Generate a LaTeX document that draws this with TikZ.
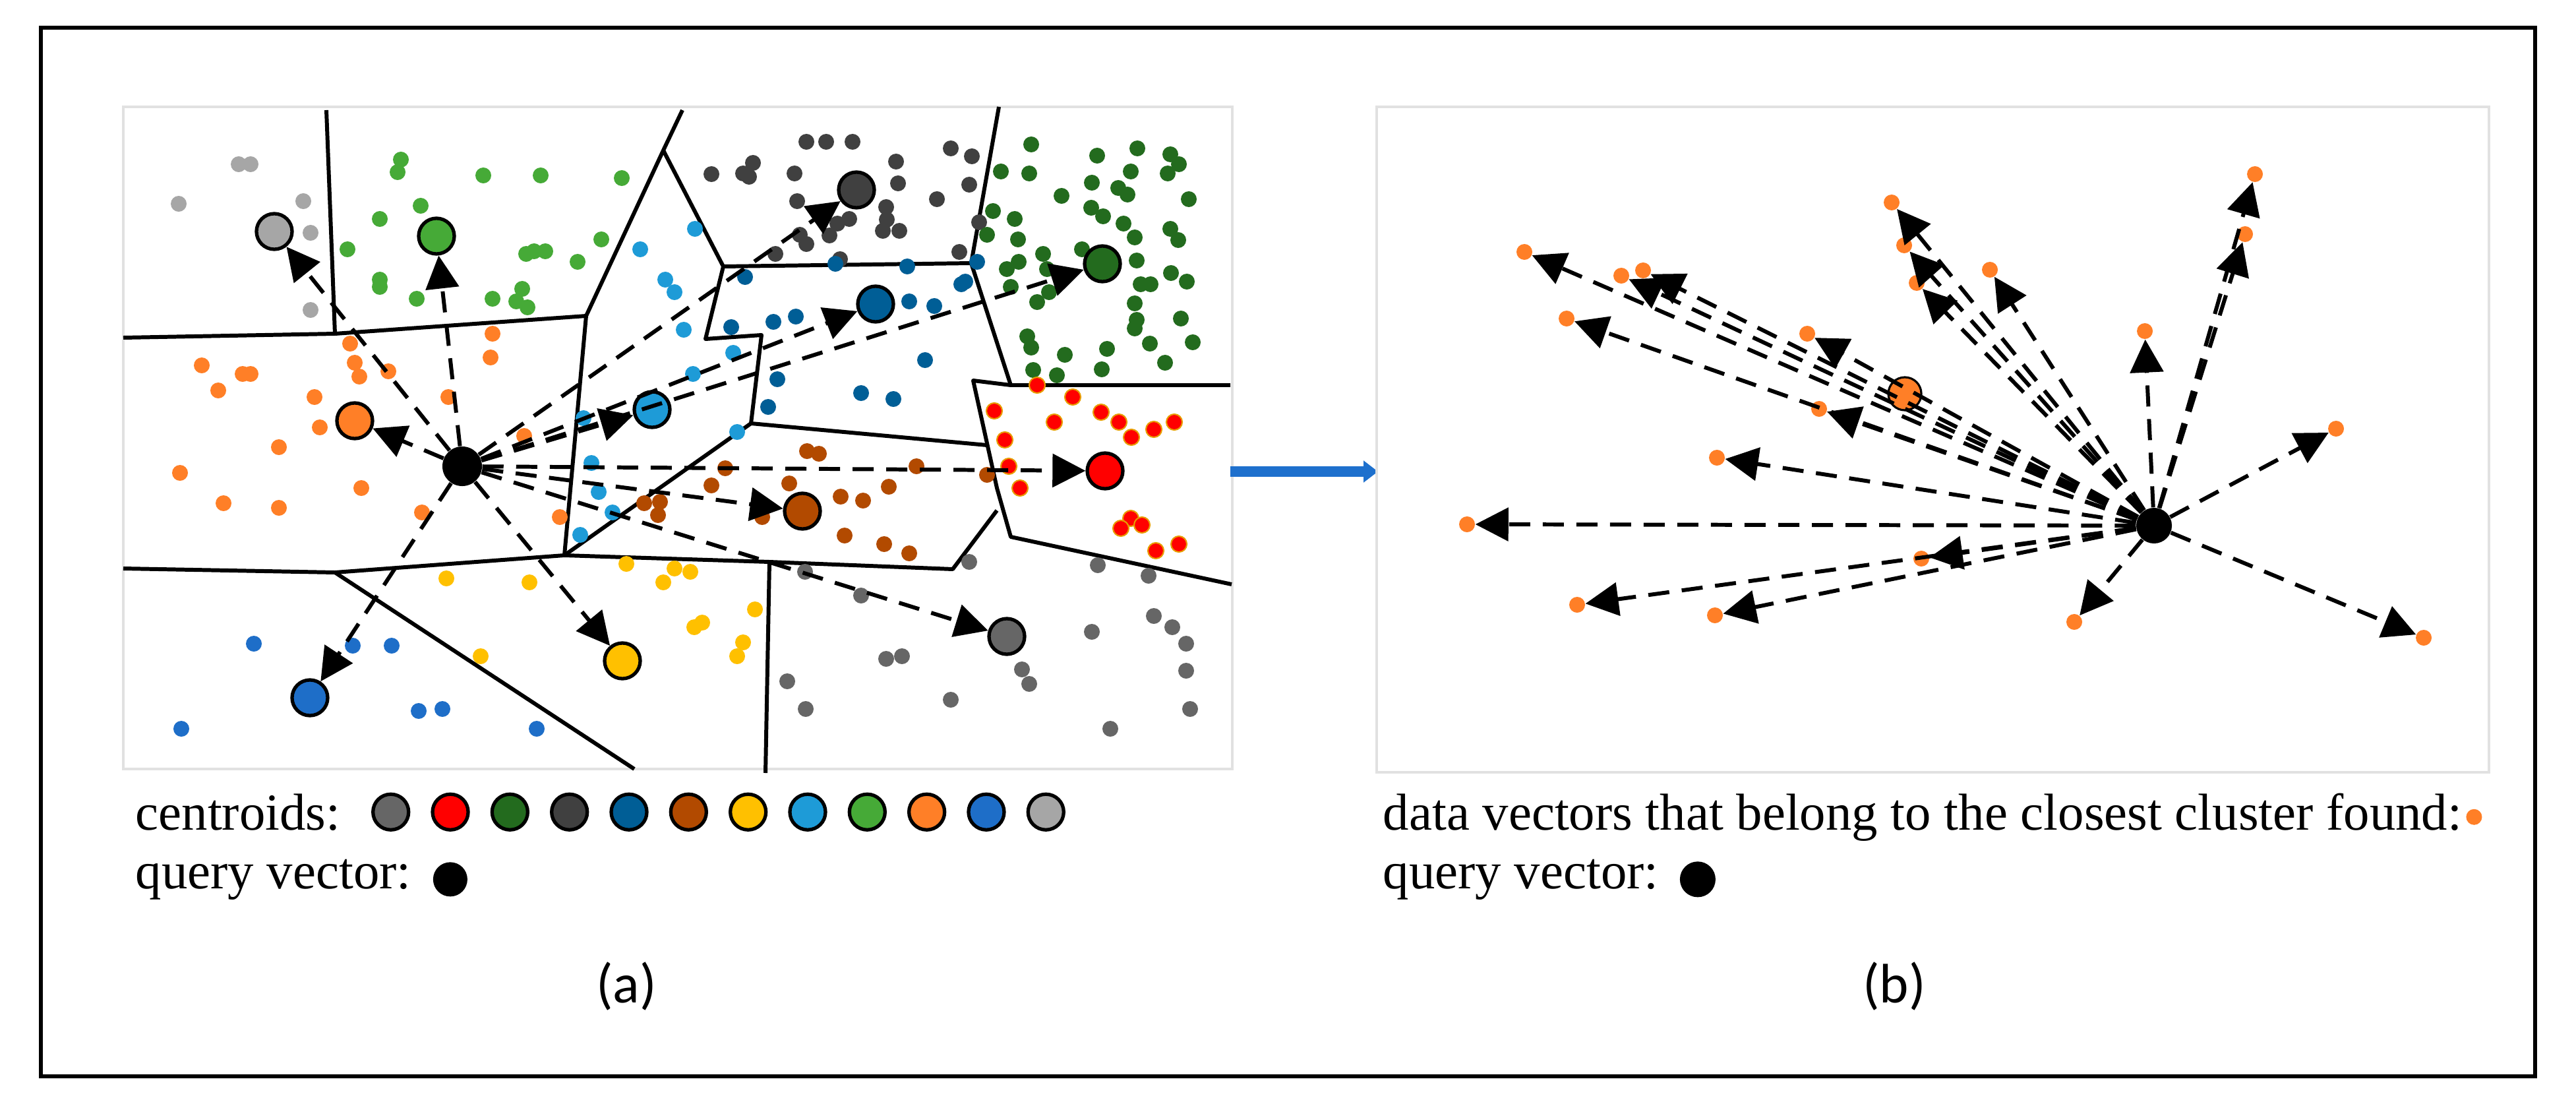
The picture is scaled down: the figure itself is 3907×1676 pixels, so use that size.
\documentclass[tikz,border=0pt]{standalone}
\usepackage{fontspec}
\setmainfont{Liberation Serif}
\newfontfamily\capfont{Carlito}
\usepackage{tikz}
\usetikzlibrary{positioning,arrows.meta}

\definecolor{cgray}{RGB}{102,102,102}
\definecolor{cred}{RGB}{255,0,0}
\definecolor{cdgreen}{RGB}{35,107,30}
\definecolor{cdgray}{RGB}{64,64,64}
\definecolor{cdblue}{RGB}{0,94,150}
\definecolor{cbrown}{RGB}{178,74,0}
\definecolor{cyellow}{RGB}{255,192,0}
\definecolor{clblue}{RGB}{30,155,215}
\definecolor{cgreen}{RGB}{70,170,55}
\definecolor{corange}{RGB}{255,127,39}
\definecolor{cblue}{RGB}{30,110,200}
\definecolor{clgray}{RGB}{166,166,166}
\definecolor{flowblue}{RGB}{30,112,205}
\definecolor{boxgray}{RGB}{225,225,225}

\tikzset{
  pt/.style={circle,inner sep=0pt,minimum size=0.24cm},
  cent/.style={circle,draw=black,line width=1.5pt,inner sep=0pt,minimum size=0.54cm},
  qry/.style={circle,fill=black,inner sep=0pt,minimum size=0.6cm},
  vec/.style={line width=1.7pt,dash pattern=on 0.32cm off 0.19cm,-{Triangle[length=0.5cm,width=0.5cm]}},
  cell/.style={line width=1.7pt,line join=round},
  panel/.style={draw=boxgray,line width=1.2pt},
  lbl/.style={inner sep=0pt,font=\fontsize{22.4}{26}\selectfont},
  link/.style={draw=flowblue,line width=0.16cm,-{Triangle[length=0.22cm,width=0.32cm]}}
}

\begin{document}
\begin{tikzpicture}[x=0.01cm,y=-0.01cm]
  \useasboundingbox (0,0) rectangle (3907,1676);
  \draw[line width=0.065cm] (62,42) rectangle (3845,1632);

  % (a) clusters
  \draw[panel] (187,162) rectangle (1869,1166);
  \draw[cell] (495,167) -- (508,506);
  \draw[cell] (187,512) -- (508,506) -- (889,479) -- (1006,228) -- (1035,167);
  \draw[cell] (1006,228) -- (1097,404) -- (1473,399) -- (1515,162);
  \draw[cell] (1473,399) -- (1533,584) -- (1866,584);
  \draw[cell] (1533,584) -- (1476,577) -- (1512,740) -- (1533,814) -- (1868,886);
  \draw[cell] (889,479) -- (856,842);
  \draw[cell] (187,862) -- (508,868) -- (856,842) -- (1167,852) -- (1445,863) -- (1512,774);
  \draw[cell] (508,868) -- (962,1166);
  \draw[cell] (1167,852) -- (1161,1172);
  \draw[cell] (1097,404) -- (1070,514) -- (1155,508) -- (1139,642) -- (856,842);
  \draw[cell] (1139,642) -- (1497,675);

  \foreach \p in {(362,249),(380,249),(271,309),(460,305),(471,353),(471,470)}
    \fill[clgray] \p circle[radius=0.12cm];
  \foreach \p in {(608,242),(603,261),(733,266),(820,266),(943,270),(638,312),(576,332),(527,378),(912,363),(798,385),(810,381),(827,381),(876,397),(576,424),(576,435),(632,453),(747,453),(792,438),(783,457),(800,466)}
    \fill[cgreen] \p circle[radius=0.12cm];
  \foreach \p in {(747,506),(531,521),(744,542),(306,554),(368,567),(380,567),(538,550),(545,571),(589,563),(331,592),(477,602),(680,602),(485,648),(795,661),(423,678),(273,717),(548,740),(339,763),(423,770),(640,777),(849,784)}
    \fill[corange] \p circle[radius=0.12cm];
  \foreach \p in {(1054,347),(971,378),(1009,424),(1023,443),(1037,500),(1051,567),(885,634),(897,702),(908,746),(929,777),(880,811),(1112,535),(1118,655)}
    \fill[clblue] \p circle[radius=0.12cm];
  \foreach \p in {(1223,215),(1253,215),(1293,215),(1079,264),(1142,247),(1127,263),(1136,268),(1205,263),(1442,225),(1474,237),(1359,245),(1362,278),(1470,280),(1421,302),(1209,305),(1344,314),(1345,333),(1364,350),(1339,350),(1288,332),(1270,339),(1258,357),(1213,356),(1223,370),(1176,385),(1274,393),(1455,382),(1485,337)}
    \fill[cdgray] \p circle[radius=0.12cm];
  \foreach \p in {(1130,420),(1267,400),(1376,404),(1458,431),(1464,427),(1482,397),(1379,457),(1417,464),(1109,496),(1173,488),(1207,480),(1403,546),(1179,575),(1306,596),(1355,605),(1165,617)}
    \fill[cdblue] \p circle[radius=0.12cm];
  \foreach \p in {(1564,219),(1664,236),(1725,225),(1775,234),(1788,249),(1518,260),(1561,263),(1715,260),(1771,263),(1656,277),(1696,285),(1710,295),(1803,302),(1610,297),(1506,320),(1539,332),(1655,315),(1673,328),(1704,339),(1775,347),(1787,364),(1497,356),(1544,363),(1721,360),(1641,378),(1527,408),(1545,397),(1582,385),(1588,408),(1533,435),(1573,458),(1591,443),(1724,395),(1730,431),(1745,431),(1776,414),(1800,427),(1721,460),(1724,485),(1721,498),(1791,483),(1558,510),(1564,527),(1615,538),(1679,529),(1744,521),(1809,519),(1671,560),(1767,550),(1567,561),(1603,569)}
    \fill[cdgreen] \p circle[radius=0.12cm];
  \foreach \p in {(1573,584),(1627,602),(1508,623),(1670,625),(1697,640),(1599,640),(1716,663),(1750,651),(1781,640),(1524,667),(1530,707),(1547,740),(1715,786),(1732,796),(1700,801),(1788,825),(1753,835)}
    \filldraw[fill=cred,draw=cyellow!70!cbrown,line width=0.6pt] \p circle[radius=0.12cm];
  \foreach \p in {(1100,710),(1390,707),(1079,736),(1197,733),(1348,738),(1497,720),(1275,753),(1309,759),(1156,784),(1281,812),(1341,825),(1379,839),(1224,684),(1242,688),(977,763),(1001,761),(998,781)}
    \fill[cbrown] \p circle[radius=0.12cm];
  \foreach \p in {(677,877),(803,883),(950,855),(1023,862),(1047,867),(1006,883),(1065,944),(1053,951),(729,995),(1145,924),(1127,974),(1118,995)}
    \fill[cyellow] \p circle[radius=0.12cm];
  \foreach \p in {(385,976),(535,979),(594,979),(275,1105),(635,1078),(671,1075),(814,1105)}
    \fill[cblue] \p circle[radius=0.12cm];
  \foreach \p in {(1470,852),(1221,867),(1665,857),(1742,873),(1306,903),(1750,934),(1778,951),(1656,958),(1799,976),(1344,999),(1368,995),(1550,1015),(1561,1037),(1799,1017),(1194,1033),(1442,1061),(1222,1075),(1805,1075),(1684,1105)}
    \fill[cgray] \p circle[radius=0.12cm];

  \node[cent,fill=cgray]   (kGray)   at (1527,965) {};
  \node[cent,fill=cred]    (kRed)    at (1676,714) {};
  \node[cent,fill=cdgreen] (kDGreen) at (1672,400) {};
  \node[cent,fill=cdgray]  (kDGray)  at (1299,288) {};
  \node[cent,fill=cdblue]  (kDBlue)  at (1328,461) {};
  \node[cent,fill=cbrown]  (kBrown)  at (1217,775) {};
  \node[cent,fill=cyellow] (kYellow) at (944,1002) {};
  \node[cent,fill=clblue]  (kLBlue)  at (989,621) {};
  \node[cent,fill=cgreen]  (kGreen)  at (662,358) {};
  \node[cent,fill=corange] (kOrange) at (538,638) {};
  \node[cent,fill=cblue]   (kBlue)   at (470,1058) {};
  \node[cent,fill=clgray]  (kLGray)  at (416,351) {};
  \node[qry] (qa) at (701,707) {};
  \foreach \k in {kGray,kRed,kDGreen,kDGray,kDBlue,kBrown,kYellow,kLBlue,kGreen,kOrange,kBlue,kLGray}
    \draw[vec] (qa) -- (\k);

  \node[lbl,anchor=base west] (lblcent) at (205,1258) {centroids:};
  \node[cent,fill=cgray,right=0.46cm of lblcent] (lg1) {};
  \foreach \c [count=\i from 2] in {cred,cdgreen,cdgray,cdblue,cbrown,cyellow,clblue,cgreen,corange,cblue,clgray} {
    \pgfmathtruncatemacro\j{\i-1}
    \node[cent,fill=\c,right=0.31cm of lg\j] (lg\i) {};
  }
  \node[lbl,anchor=base west] (lblqa) at (205,1347) {query vector:};
  \node[qry,minimum size=0.52cm,right=0.32cm of lblqa] (lgqa) {};
  \node[font=\capfont\fontsize{24}{28}\selectfont] (capa) at (950,1495) {(a)};

  \coordinate (ga) at (1866,715);
  \coordinate (gb) at (2090,715);
  \draw[link] (ga) -- (gb);

  % (b) closest cluster
  \draw[panel] (2088,162) rectangle (3775,1171);
  \node[cent,fill=corange,line width=0.9pt,minimum size=0.5cm] (kb) at (2889,597) {};
  \foreach \p [count=\i] in {(2312,382),(2459,418),(2492,410),(2376,483),(2741,506),(2759,620),(2604,694),(2869,307),(2888,372),(2907,429),(3018,409),(3253,502),(3420,264),(3405,355),(3543,650),(2225,795),(2914,847),(2392,917),(2601,933),(3146,943),(3676,967)}
    \node[pt,fill=corange] (d\i) at \p {};
  \node[qry,minimum size=0.54cm] (qb) at (3267,797) {};
  \foreach \i in {1,...,21}
    \draw[vec] (qb) -- (d\i);

  \node[lbl,anchor=base west] (lblvec) at (2097,1258) {data vectors that belong to the closest cluster found:};
  \node[pt,fill=corange,right=0.05cm of lblvec] (lgd) {};
  \node[lbl,anchor=base west] (lblqb) at (2097,1347) {query vector:};
  \node[qry,minimum size=0.54cm,right=0.31cm of lblqb] (lgqb) {};
  \node[font=\capfont\fontsize{24}{28}\selectfont] (capb) at (2873,1495) {(b)};
\end{tikzpicture}
\end{document}
